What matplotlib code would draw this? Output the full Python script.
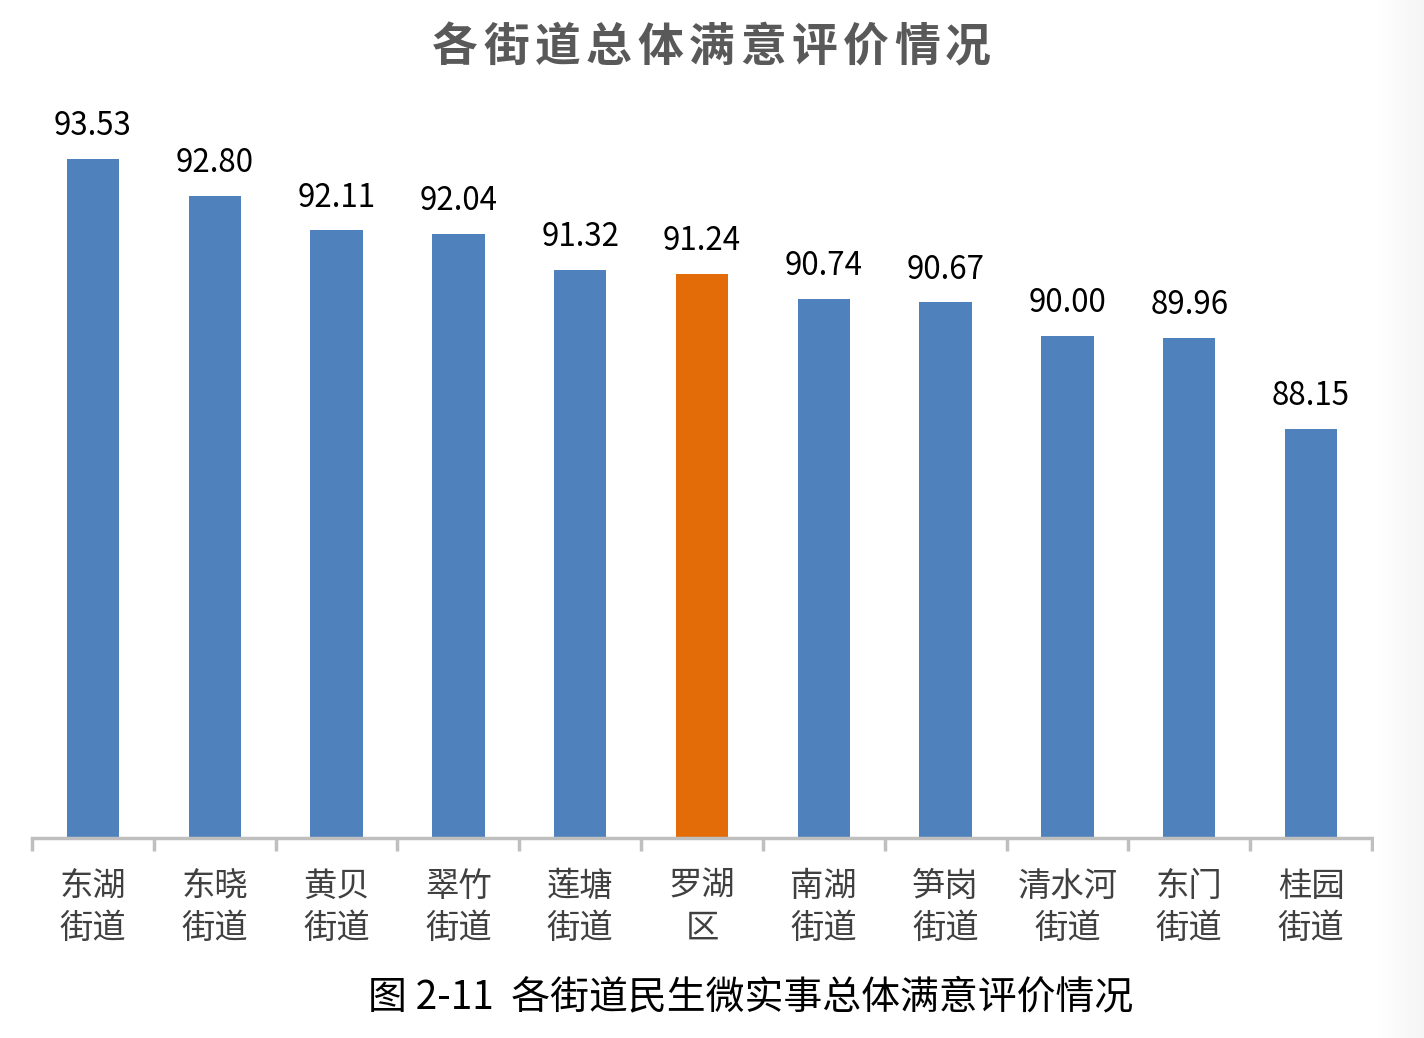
import numpy as np
import matplotlib.pyplot as plt

plt.rcParams['font.family'] = ['Noto Sans CJK SC', 'DejaVu Sans']

streets = ['东湖\n街道', '东晓\n街道', '黄贝\n街道', '翠竹\n街道', '莲塘\n街道', '罗湖\n区',
           '南湖\n街道', '笋岗\n街道', '清水河\n街道', '东门\n街道', '桂园\n街道']
scores = [93.53, 92.80, 92.11, 92.04, 91.32, 91.24, 90.74, 90.67, 90.00, 89.96, 88.15]
highlight = '罗湖\n区'
title = '各街道总体满意评价情况'
caption = '图 2-11  各街道民生微实事总体满意评价情况'

blue = '#4F81BD'
orange = '#E36C09'
colors = [orange if s == highlight else blue for s in streets]

fig = plt.figure(figsize=(14.24, 10.38), dpi=100)
ax = fig.add_axes([0.0225, 0.1927, 0.941, 0.7253])

x = np.arange(len(streets))
ax.bar(x, scores, width=0.43, color=colors, zorder=2)
ax.set_ylim(80, 95)
ax.set_xlim(-0.5, len(streets) - 0.5)

for xi, v in zip(x, scores):
    ax.annotate(f'{v:.2f}', (xi, v), xytext=(0, 12), textcoords='offset points',
                ha='center', va='bottom', fontsize=22.5, color='black')

for side in ['top', 'right', 'left']:
    ax.spines[side].set_visible(False)
ax.spines['bottom'].set_color('#BFBFBF')
ax.spines['bottom'].set_linewidth(2.5)
ax.set_yticks([])

# ticks sit on category boundaries, labels under bar centres
ax.set_xticks(np.arange(-0.5, len(streets)))
ax.set_xticklabels([])
ax.tick_params(axis='x', length=9, width=2.5, color='#BFBFBF', direction='out')
for xi, s in zip(x, streets):
    ax.text(xi, 79.39, s, ha='center', va='top', fontsize=24, color='#404040',
            linespacing=1.27)

# title is spaced out, so place the characters one by one
x0, x1 = 455 / 1424, 968 / 1424
for i, ch in enumerate(title):
    fig.text(x0 + (x1 - x0) * i / (len(title) - 1), 0.954, ch, ha='center', va='center',
             fontsize=33, fontweight='bold', color='#595959')

fig.text(0.527, 0.039, caption, ha='center', va='center',
         fontsize=28, color='black', fontweight='medium')

# faint gray strip on the right edge
grad = np.linspace(0, 1, 50).reshape(1, -1)
gax = fig.add_axes([0.965, 0, 0.035, 1])
gax.imshow(grad, aspect='auto', cmap='Greys', vmin=0, vmax=12, extent=[0, 1, 0, 1])
gax.axis('off')

fig.savefig('out.png', dpi=100)
